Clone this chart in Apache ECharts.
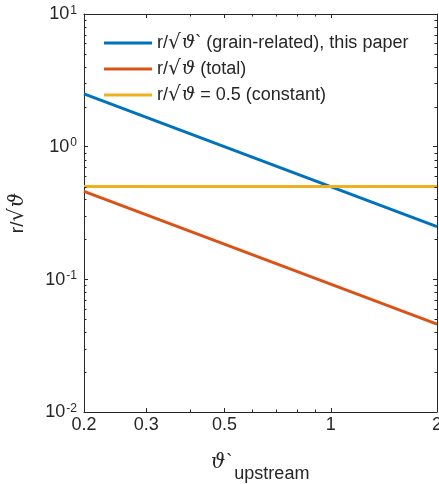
<!DOCTYPE html>
<html><head><meta charset="utf-8">
<script src="https://cdn.jsdelivr.net/npm/echarts@6/dist/echarts.min.js"></script>
<style>html,body{margin:0;padding:0;background:#fff}#c{width:439px;height:484px}</style>
</head><body><div id="c"></div>
<script>
// ---- data ----
const xValues = [0.2, 2];
const grainRelated = [2.5, 0.25];
const totalValues = [0.46, 0.046];
const constantValues = [0.5, 0.5];
const seriesNames = ['grain', 'total', 'const'];
const xMajorTicks = [0.2, 0.3, 0.5, 1, 2];
const xTickLabels = ['0.2', '0.3', '0.5', '1', '2'];
const xMinorTicks = [0.4, 0.6, 0.7, 0.8, 0.9];
const yMajorExponents = ['-2', '-1', '0', '1'];
const yMinorTicks = [0.02,0.03,0.04,0.05,0.06,0.07,0.08,0.09,
                     0.2,0.3,0.4,0.5,0.6,0.7,0.8,0.9,
                     2,3,4,5,6,7,8,9];
const X_MIN = 0.2, X_MAX = 2, Y_MIN = 0.01, Y_MAX = 10;

const FONT = '"Liberation Sans", Arial, Helvetica, sans-serif';
const THETA_FONT = '"DejaVu Serif", serif';
const RAD_FONT = '"DejaVu Sans", sans-serif';
const AX = '#262626';

// tick items built from tick value lists
const tickItems = [];
xMajorTicks.forEach(v => { tickItems.push({x:v, y:Y_MIN, side:'bottom', len:4}); tickItems.push({x:v, y:Y_MAX, side:'top', len:4}); });
xMinorTicks.forEach(v => { tickItems.push({x:v, y:Y_MIN, side:'bottom', len:2.5}); tickItems.push({x:v, y:Y_MAX, side:'top', len:2.5}); });
yMinorTicks.forEach(v => { tickItems.push({x:X_MIN, y:v, side:'left', len:2.5}); tickItems.push({x:X_MAX, y:v, side:'right', len:2.5}); });

function renderTick(params, api) {
  const t = tickItems[params.dataIndex];
  const p = api.coord([t.x, t.y]);
  let dx = 0, dy = 0;
  if (t.side === 'bottom') dy = -t.len;
  else if (t.side === 'top') dy = t.len;
  else if (t.side === 'left') dx = t.len;
  else dx = -t.len;
  const x = Math.round(p[0]) + (dx === 0 ? 0.5 : 0);
  const y = Math.round(p[1]) + (dy === 0 ? 0.5 : 0);
  return {type:'line', shape:{x1:x, y1:y, x2:x+dx, y2:y+dy}, style:{stroke:AX, lineWidth:1}};
}
function renderXLabel(params, api) {
  const i = params.dataIndex;
  const p = api.coord([xMajorTicks[i], Y_MIN]);
  return {type:'text', x:p[0], y:p[1] + 4,
    style:{text:xTickLabels[i], fill:AX, fontSize:18, fontFamily:FONT, align:'center', verticalAlign:'top'}};
}

const chart = echarts.init(document.getElementById('c'), null, {renderer:'canvas'});
const mathRich = {
  n: {fontSize:18, fontFamily:FONT, color:AX},
  r: {fontSize:20, fontFamily:RAD_FONT, color:AX, padding:[0,1,0,0]},
  t: {fontSize:19, fontFamily:THETA_FONT, fontStyle:'italic', color:AX}
};
const legendText = {
  grain: '{n|r/}{r|√}{t|ϑ}{n|` (grain-related), this paper}',
  total: '{n|r/}{r|√}{t|ϑ}{n| (total)}',
  const: '{n|r/}{r|√}{t|ϑ}{n| = 0.5 (constant)}'
};
const colors = ['#0072BD', '#D95319', '#EDB120'];
const lineData = [grainRelated, totalValues, constantValues];

chart.setOption({
  animation: false,
  backgroundColor: '#fff',
  grid: {left:84, right:2, top:14, bottom:72, containLabel:false, outerBoundsMode:'none'},
  legend: {
    orient:'vertical', left:104, top:32, padding:0, itemGap:4,
    itemWidth:48, itemHeight:3, icon:'rect',
    data: seriesNames,
    formatter: name => legendText[name],
    textStyle: {fontSize:18, fontFamily:FONT, color:AX, lineHeight:22, rich:mathRich}
  },
  xAxis: [{
    type:'log', logBase:10, min:X_MIN, max:X_MAX, position:'bottom',
    axisLine:{show:true, lineStyle:{color:AX, width:1}},
    axisTick:{show:false}, axisLabel:{show:false}, splitLine:{show:false}, minorTick:{show:false},
    name:'{t|ϑ}{g|`}{s|upstream}{sp| }', nameLocation:'middle', nameGap:41,
    nameTextStyle:{rich:{
      t:{fontSize:20, fontFamily:THETA_FONT, fontStyle:'italic', color:AX, verticalAlign:'top', lineHeight:20},
      g:{fontSize:18, fontFamily:FONT, color:AX, verticalAlign:'top', lineHeight:20, padding:[0,2,0,1]},
      s:{fontSize:18, fontFamily:FONT, color:AX, verticalAlign:'bottom', lineHeight:20},
      sp:{fontSize:2, lineHeight:30, verticalAlign:'bottom'}
    }}
  }, {
    type:'log', logBase:10, min:X_MIN, max:X_MAX, position:'top',
    axisLine:{show:true, onZero:false, lineStyle:{color:AX, width:1}},
    axisTick:{show:false}, axisLabel:{show:false}, splitLine:{show:false}
  }],
  yAxis: [{
    type:'log', logBase:10, min:Y_MIN, max:Y_MAX, position:'left',
    axisLine:{show:true, lineStyle:{color:AX, width:1}},
    axisTick:{show:true, inside:true, length:4, lineStyle:{color:AX}},
    splitLine:{show:false},
    axisLabel:{
      margin:7, color:AX,
      formatter: (v, i) => '{b|10}{s|' + yMajorExponents[i] + '}',
      rich:{
        b:{fontSize:18, fontFamily:FONT, color:AX, lineHeight:19, verticalAlign:'bottom'},
        s:{fontSize:12, fontFamily:FONT, color:AX, lineHeight:12, verticalAlign:'top', padding:[0,0,12,1]}
      }
    },
    name:'{n|r/}{r|√}{t|ϑ}', nameLocation:'middle', nameGap:56, nameRotate:90,
    nameTextStyle:{rich:{
      n:{fontSize:19, fontFamily:FONT, color:AX},
      r:{fontSize:21, fontFamily:RAD_FONT, color:AX, padding:[0,1,0,0]},
      t:{fontSize:20, fontFamily:THETA_FONT, fontStyle:'italic', color:AX}
    }}
  }, {
    type:'log', logBase:10, min:Y_MIN, max:Y_MAX, position:'right',
    axisLine:{show:true, onZero:false, lineStyle:{color:AX, width:1}},
    axisTick:{show:true, inside:true, length:4, lineStyle:{color:AX}},
    axisLabel:{show:false}, splitLine:{show:false}
  }],
  series: seriesNames.map((n, k) => ({
    name:n, type:'line', xAxisIndex:0, yAxisIndex:0,
    data: xValues.map((x, i) => [x, lineData[k][i]]),
    showSymbol:false, symbol:'none', color:colors[k],
    lineStyle:{color:colors[k], width:3}, silent:true, z:3
  })).concat([{
    type:'custom', name:'ticks', xAxisIndex:0, yAxisIndex:0, renderItem:renderTick,
    data: tickItems.map(t => [t.x, t.y]), clip:false, silent:true, z:4
  }, {
    type:'custom', name:'xlabels', xAxisIndex:0, yAxisIndex:0, renderItem:renderXLabel,
    data: xMajorTicks.map(v => [v, Y_MIN]), clip:false, silent:true, z:4
  }])
});
</script>
</body></html>
